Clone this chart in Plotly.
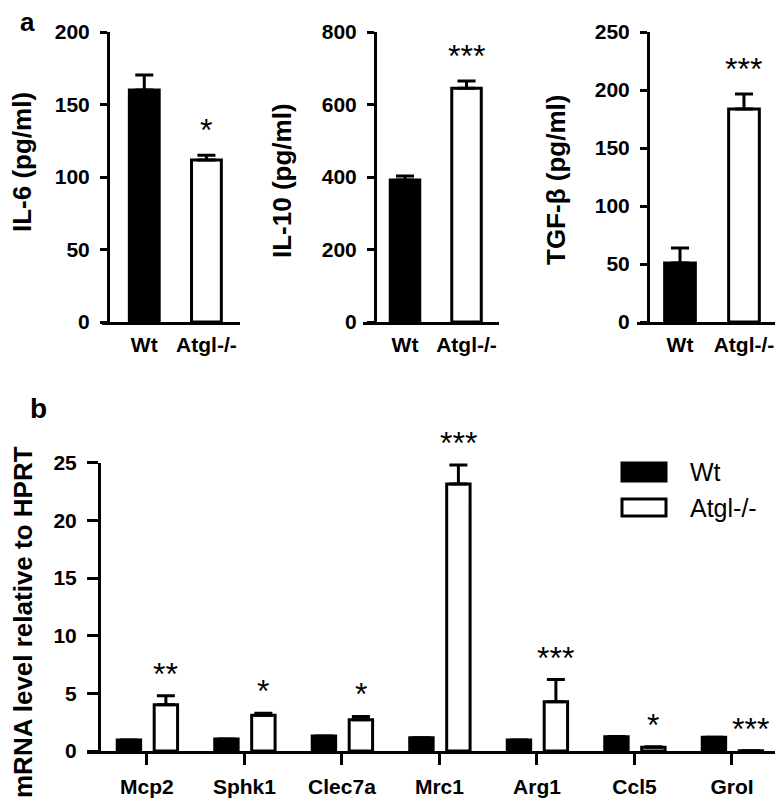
import plotly.graph_objects as go

# ---------------- data ----------------
groups = ["Wt", "Atgl-/-"]
il6 = [160, 111.7]
il6_err = [10.3, 3.3]
il6_sig = ["", "*"]
il10 = [392, 645]
il10_err = [11, 20]
il10_sig = ["", "***"]
tgfb = [50.9, 183.6]
tgfb_err = [12.9, 12.9]
tgfb_sig = ["", "***"]

genes = ["Mcp2", "Sphk1", "Clec7a", "Mrc1", "Arg1", "Ccl5", "GroI"]
wt_mrna = [0.95, 1.04, 1.3, 1.15, 0.95, 1.24, 1.19]
wt_mrna_err = [0.05, 0.05, 0.05, 0.05, 0.05, 0.05, 0.05]
atgl_mrna = [4.0, 3.1, 2.7, 23.15, 4.28, 0.32, 0.02]
atgl_mrna_err = [0.8, 0.17, 0.3, 1.65, 1.92, 0.05, 0.0]
mrna_sig = ["**", "*", "*", "***", "***", "*", "***"]

# ---------------- layout helpers ----------------
# the page body has an 8px default margin, so the figure is sized to fit the window
OFF = 8
W, H = 783 - OFF, 805 - OFF
FONT = "Liberation Sans, Arial, Helvetica, sans-serif"


def fx(p):
    return (p - OFF) / W


def fy(p):
    return 1 - (p - OFF) / H


fig = go.Figure()

panel_a = [
    (il6, il6_err, il6_sig, "IL-6 (pg/ml)", 200, 50, (102, 240, 108), (-0.68, 1.54), (22, 162)),
    (il10, il10_err, il10_sig, "IL-10 (pg/ml)", 800, 200, (363, 499, 375), (-0.683, 1.528), (282, 181)),
    (tgfb, tgfb_err, tgfb_sig, "TGF-β (pg/ml)", 250, 50, (637, 777, 648), (-0.672, 1.516), (556, 180)),
]

annotations = []
shapes = []
LW = 3
axis_common = dict(showgrid=False, zeroline=False, showline=True, linecolor="black",
                   linewidth=LW, fixedrange=True, automargin=False)
tickfont = dict(family=FONT, size=21, color="black", weight="bold")
star_font = dict(family=FONT, size=32, color="black")

bar_w_a = 0.48
for k, (vals, errs, sig, title, ymax, dt, (x0, x1, yx), xr, (tx, ty)) in enumerate(panel_a, start=1):
    xn = "x" if k == 1 else f"x{k}"
    yn = "y" if k == 1 else f"y{k}"
    xpos = list(range(len(groups)))
    fig.add_trace(go.Bar(
        x=xpos, y=vals, width=bar_w_a,
        marker=dict(color=["black", "white"], line=dict(color="black", width=LW)),
        error_y=dict(type="data", symmetric=False, array=errs, arrayminus=[0] * len(errs),
                     color="black", thickness=LW, width=9),
        xaxis=xn, yaxis=yn, showlegend=False, hoverinfo="skip",
    ))
    fig.update_layout(**{
        ("xaxis" if k == 1 else f"xaxis{k}"): dict(
            domain=[fx(x0), fx(x1)], range=list(xr), anchor=yn,
            tickvals=xpos, ticktext=groups, ticks="", tickfont=tickfont,
            ticklabelstandoff=2, **axis_common),
        ("yaxis" if k == 1 else f"yaxis{k}"): dict(
            domain=[fy(322), fy(32)], range=[0, ymax], anchor="free", position=fx(yx),
            dtick=dt, ticks="outside", ticklen=7, tickwidth=LW, tickcolor="black",
            tickfont=tickfont, ticklabelstandoff=6, **axis_common),
    })
    for i, s in enumerate(sig):
        if s:
            annotations.append(dict(
                x=xpos[i], y=vals[i] + errs[i], xref=xn, yref=yn, text=s,
                showarrow=False, yanchor="bottom", yshift=5, font=star_font))
    annotations.append(dict(
        x=fx(tx), y=fy(ty), xref="paper", yref="paper", text=title, textangle=-90,
        showarrow=False, xanchor="center", yanchor="middle",
        font=dict(family=FONT, size=26, color="black", weight="bold")))

# ---------------- panel b ----------------
xg = list(range(len(genes)))
bw = 0.24
off_wt, off_ko = -0.305, 0.074
fig.add_trace(go.Bar(
    x=xg, y=wt_mrna, width=bw, offset=off_wt, name="Wt",
    marker=dict(color="black", line=dict(color="black", width=LW)),
    error_y=dict(type="data", symmetric=False, array=wt_mrna_err, arrayminus=[0] * 7,
                 color="black", thickness=2, width=9),
    xaxis="x4", yaxis="y4", showlegend=False, hoverinfo="skip"))
fig.add_trace(go.Bar(
    x=xg, y=atgl_mrna, width=bw, offset=off_ko, name="Atgl-/-",
    marker=dict(color="white", line=dict(color="black", width=LW)),
    error_y=dict(type="data", symmetric=False, array=atgl_mrna_err, arrayminus=[0] * 7,
                 color="black", thickness=LW, width=9),
    xaxis="x4", yaxis="y4", showlegend=False, hoverinfo="skip"))

fig.update_layout(
    xaxis4=dict(domain=[fx(87), fx(782)], range=[-0.615, 6.513], anchor="y4",
                tickvals=xg, ticktext=genes, ticks="outside", ticklen=11, tickwidth=LW,
                tickcolor="black", tickfont=tickfont, ticklabelstandoff=4, **axis_common),
    yaxis4=dict(domain=[fy(751), fy(462.7)], range=[0, 25], anchor="free", position=fx(99),
                dtick=5, ticks="outside", ticklen=11, tickwidth=LW, tickcolor="black",
                tickfont=tickfont, ticklabelstandoff=6, **axis_common),
)

for i, s in enumerate(mrna_sig):
    annotations.append(dict(
        x=xg[i] + off_ko + bw / 2, y=atgl_mrna[i] + atgl_mrna_err[i], xref="x4", yref="y4",
        text=s, showarrow=False, yanchor="bottom", yshift=2, font=star_font))

annotations.append(dict(
    x=fx(23), y=fy(622), xref="paper", yref="paper", text="mRNA level relative to HPRT",
    textangle=-90, showarrow=False, xanchor="center", yanchor="middle",
    font=dict(family=FONT, size=26, color="black", weight="bold")))

# panel letters
annotations.append(dict(x=fx(27), y=fy(22), xref="paper", yref="paper", text="a",
                        showarrow=False, xanchor="center", yanchor="middle",
                        font=dict(family=FONT, size=26, color="black", weight="bold")))
annotations.append(dict(x=fx(38), y=fy(408), xref="paper", yref="paper", text="b",
                        showarrow=False, xanchor="center", yanchor="middle",
                        font=dict(family=FONT, size=28, color="black", weight="bold")))

# legend (drawn manually to match large swatches)
legend_items = [("Wt", "black", 463, 481, 472), ("Atgl-/-", "white", 499, 516, 508)]
for label, col, r0, r1, ty in legend_items:
    shapes.append(dict(type="rect", xref="paper", yref="paper",
                       x0=fx(622), x1=fx(666), y0=fy(r1), y1=fy(r0),
                       fillcolor=col, line=dict(color="black", width=LW)))
    annotations.append(dict(x=fx(688), y=fy(ty), xref="paper", yref="paper", text=label,
                            showarrow=False, xanchor="left", yanchor="middle",
                            font=dict(family=FONT, size=25, color="black")))

fig.update_layout(
    width=W, height=H,
    margin=dict(l=0, r=0, t=0, b=0, pad=0, autoexpand=False),
    paper_bgcolor="white", plot_bgcolor="white",
    barmode="overlay", showlegend=False,
    annotations=annotations, shapes=shapes,
    font=dict(family=FONT, color="black"),
)

fig.write_html("out.html")
